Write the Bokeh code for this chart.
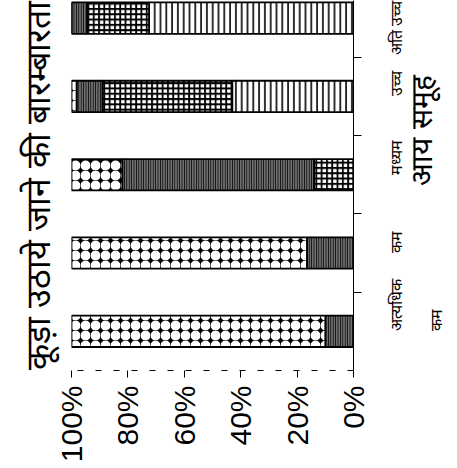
import math
from bokeh.plotting import figure
from bokeh.models import (Range1d, FixedTicker, PrintfTickFormatter, Title, ColumnDataSource,
                          LinearAxis)
from bokeh.embed import file_html
from bokeh.resources import INLINE

# ---- data ----
categories = ["अत्यधिक कम", "कम", "मध्यम", "उच्च", "अति उच्च"]
label_line1 = ["अत्यधिक", "कम", "मध्यम", "उच्च", "अति उच्च"]
label_line2 = ["कम", "", "", "", ""]
vertical_series = [0.0, 0.0, 0.0, 43.0, 72.5]
grid_series = [0.0, 0.0, 14.0, 46.0, 22.0]
dark_series = [10.0, 16.5, 68.0, 9.2, 5.5]
diamond_series = [90.0, 83.5, 18.0, 1.8, 0.0]
value_ticks = [0, 20, 40, 60, 80, 100]
title_text = "कूड़ा उठाये जाने की बारम्बारता"
axis_title = "आय समूह"

positions = list(range(len(categories)))
boundaries = [i + 0.5 for i in positions[:-1]]

src = ColumnDataSource(dict(
    y=positions,
    vertical=vertical_series,
    grid=grid_series,
    dark=dark_series,
    diamond=diamond_series,
))

LAB = "Liberation Sans"

p = figure(width=457, height=468, output_backend="svg", toolbar_location=None,
           x_range=Range1d(100, 0), y_range=Range1d(-0.5, 4.225),
           y_axis_location="right",
           min_border_left=71, min_border_right=103, min_border_bottom=98, min_border_top=0)
p.outline_line_color = None
p.xgrid.visible = False
p.ygrid.visible = False
p.background_fill_color = "white"
p.border_fill_color = "white"

p.hbar_stack(["vertical", "grid", "dark", "diamond"], y="y", height=0.4, source=src,
             fill_color=["white", "white", "#6e6e6e", "black"],
             hatch_pattern=["vertical_line", "cross", "vertical_line", "ring"],
             hatch_color=["black", "black", "black", "white"],
             hatch_weight=[1.6, 1.8, 1.0, 5.0],
             hatch_scale=[5.8, 5.3, 2.4, 10.0],
             line_color="black", line_width=1.8)

# value axis (bottom)
xa = p.xaxis[0]
xa.ticker = FixedTicker(ticks=value_ticks, minor_ticks=[])
xa.formatter = PrintfTickFormatter(format="%d%%")
xa.major_label_orientation = math.pi / 2
xa.major_label_text_font = LAB
xa.major_label_text_font_size = "30px"
xa.major_label_text_color = "black"
xa.major_label_standoff = 8
xa.major_tick_out = 7
xa.major_tick_in = 0
xa.minor_tick_out = 0
xa.axis_line_color = "black"
xa.axis_line_dash = "6 12"
xa.major_tick_line_color = "black"

# category axis (right): line, between-category ticks, first label line
ya = p.yaxis[0]
ya.ticker = FixedTicker(ticks=positions, minor_ticks=boundaries)
ya.major_label_overrides = {pos: lab for pos, lab in zip(positions, label_line1)}
ya.major_label_orientation = math.pi / 2
ya.major_label_text_font = LAB
ya.major_label_text_font_size = "16px"
ya.major_label_text_color = "black"
ya.major_label_standoff = 35
ya.major_tick_out = 0
ya.major_tick_in = 0
ya.minor_tick_out = 8
ya.minor_tick_in = 0
ya.minor_tick_line_color = "black"
ya.axis_line_color = "black"

# second line of the wrapped category labels
ya2 = LinearAxis(ticker=FixedTicker(ticks=positions, minor_ticks=[]),
                 major_label_overrides={pos: lab for pos, lab in zip(positions, label_line2)},
                 major_label_orientation=math.pi / 2,
                 major_label_text_font=LAB, major_label_text_font_size="16px",
                 major_label_text_color="black", major_label_standoff=20,
                 axis_line_color=None, major_tick_line_color=None, minor_tick_line_color=None,
                 major_tick_out=0, major_tick_in=0, minor_tick_out=0, minor_tick_in=0)
p.add_layout(ya2, "right")

# axis title, drawn as a single rotated label at the middle of the category axis
mid = (p.y_range.start + p.y_range.end) / 2
ya3 = LinearAxis(ticker=FixedTicker(ticks=[mid], minor_ticks=[]),
                 major_label_overrides={mid: axis_title},
                 major_label_orientation=math.pi / 2,
                 major_label_text_font=LAB, major_label_text_font_size="30px",
                 major_label_text_color="black", major_label_standoff=-35,
                 axis_line_color=None, major_tick_line_color=None, minor_tick_line_color=None,
                 major_tick_out=0, major_tick_in=0, minor_tick_out=0, minor_tick_in=0)
p.add_layout(ya3, "right")

t = Title(text=title_text, align="center", text_font=LAB, text_font_size="34px",
          text_font_style="normal", text_color="black")
try:
    t.standoff = 29
except Exception:
    pass
p.add_layout(t, "left")

open("out.html", "w").write(file_html(p, INLINE))
